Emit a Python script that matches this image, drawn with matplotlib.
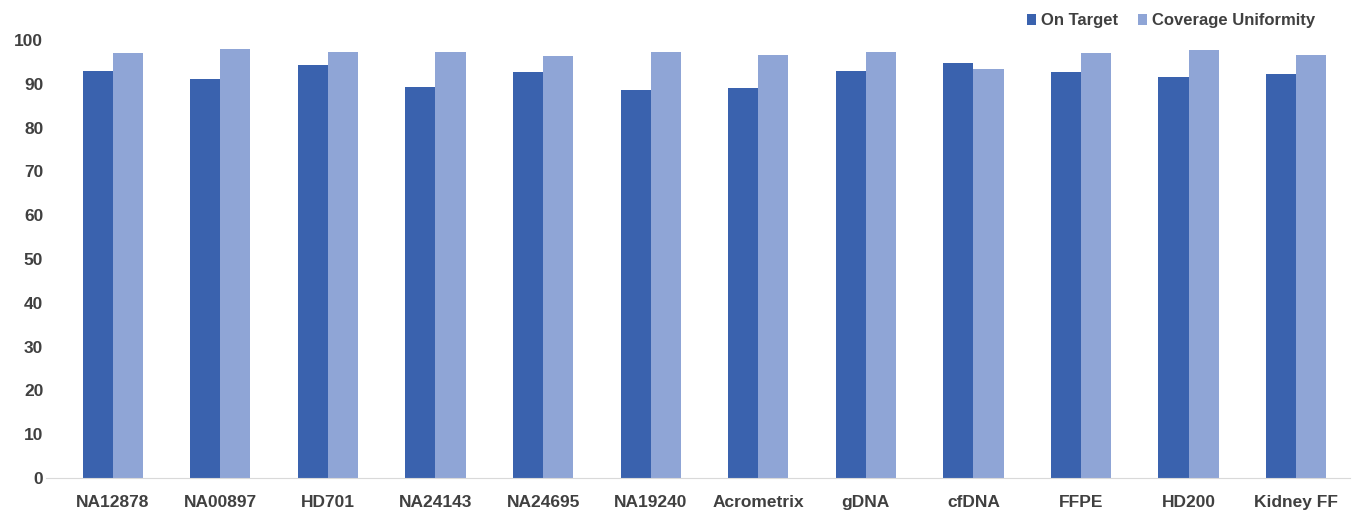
import numpy as np
import matplotlib.pyplot as plt

# ---------------- DATA ----------------
samples = ["NA12878", "NA00897", "HD701", "NA24143", "NA24695", "NA19240",
           "Acrometrix", "gDNA", "cfDNA", "FFPE", "HD200", "Kidney FF"]
on_target = [93.0, 91.2, 94.4, 89.3, 92.6, 88.6, 89.0, 93.0, 94.8, 92.7, 91.6, 92.3]
coverage_uniformity = [97.0, 98.0, 97.3, 97.3, 96.3, 97.3, 96.6, 97.3, 93.4, 97.0, 97.7, 96.6]
yticks = list(range(0, 101, 10))

# ---------------- STYLE ----------------
plt.rcParams["font.family"] = ["Liberation Sans", "DejaVu Sans"]
text_color = "#404040"
dark = "#3A62AE"
light = "#8FA5D6"

fig = plt.figure(figsize=(13.54, 5.17), dpi=100)
ax = fig.add_axes([0.034, 0.0754, 0.963, 0.8472])

x = np.arange(len(samples))
w = 0.28
ax.bar(x - w / 2, on_target, width=w, color=dark, label="On Target")
ax.bar(x + w / 2, coverage_uniformity, width=w, color=light, label="Coverage Uniformity")

ax.set_ylim(0, 100)
ax.set_xlim(-0.62, len(samples) - 0.5)
ax.set_yticks(yticks)
ax.set_xticks(x)
ax.set_xticklabels(samples)
ax.tick_params(axis="both", length=0, labelsize=12.5, labelcolor=text_color)
ax.tick_params(axis="x", pad=12)
ax.tick_params(axis="y", pad=2)
for lbl in ax.get_xticklabels() + ax.get_yticklabels():
    lbl.set_fontweight("bold")

for side in ["top", "right", "left"]:
    ax.spines[side].set_visible(False)
ax.spines["bottom"].set_color("#d9d9d9")

leg = ax.legend(loc="upper right", bbox_to_anchor=(0.985, 1.095), ncol=2, frameon=False,
                handlelength=0.55, handleheight=0.55, handletextpad=0.3, columnspacing=1.2,
                prop={"weight": "bold", "size": 12})
for t in leg.get_texts():
    t.set_color(text_color)

plt.savefig("out.png", dpi=100)
plt.close()
